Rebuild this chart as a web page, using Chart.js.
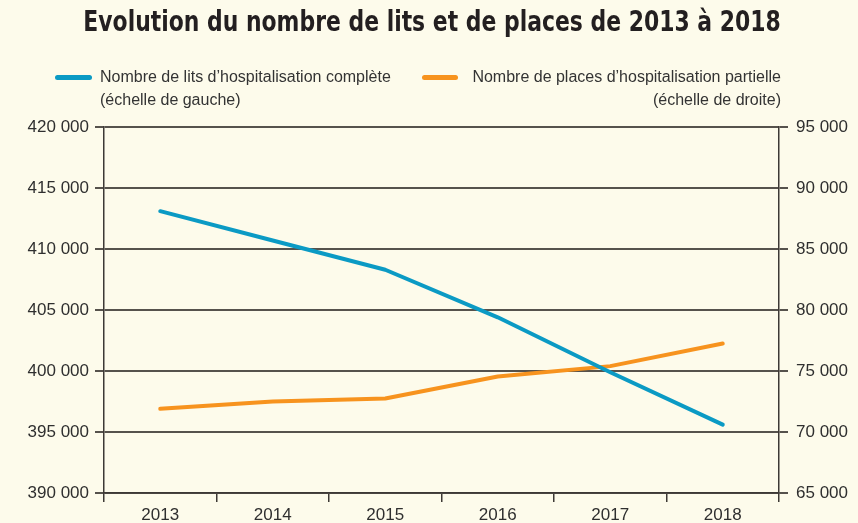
<!DOCTYPE html>
<html>
<head>
<meta charset="utf-8">
<script src="https://cdn.jsdelivr.net/npm/chart.js@4.4.1/dist/chart.umd.min.js"></script>
<style>
  html, body { margin: 0; padding: 0; background: #fdfbeb; }
  #wrap { position: relative; width: 858px; height: 523px; background: #fdfbeb; overflow: hidden; }
  #c { position: absolute; left: 0; top: 0; }
  #title { position: absolute; left: 0; width: 858px; top: 4px; text-align: center;
           font-family: 'Liberation Sans Narrow', 'DejaVu Sans Condensed', sans-serif; font-weight: bold;
           font-size: 29px; color: #231f20; white-space: nowrap;
           transform: translateX(3px) scaleX(0.84); transform-origin: 50% 50%; }
  .sw { position: absolute; height: 5px; border-radius: 3px; }
  .lg { position: absolute; font-family: 'Liberation Sans', Arial, sans-serif; font-size: 16px;
        color: #333; line-height: 23px; white-space: nowrap; }
</style>
</head>
<body>
<div id="wrap">
  <canvas id="c" width="858" height="523"></canvas>
  <div id="title"></div>
  <div id="sw0" class="sw" style="left:55px; top:75px; width:37px;"></div>
  <div id="lg0" class="lg" style="left:100px; top:65px;"></div>
  <div id="sw1" class="sw" style="left:422px; top:75px; width:36px;"></div>
  <div id="lg1" class="lg" style="right:77px; top:65px; text-align:right;"></div>
</div>
<script>
const titleText = "Evolution du nombre de lits et de places de 2013 à 2018";
const years = ['2013', '2014', '2015', '2016', '2017', '2018'];
const seriesNames = ["Nombre de lits d\u2019hospitalisation complète", "Nombre de places d\u2019hospitalisation partielle"];
const seriesNotes = ["(échelle de gauche)", "(échelle de droite)"];
const litsComplete = [413100, 410700, 408300, 404400, 399900, 395600];
const placesPartielle = [71900, 72500, 72750, 74550, 75400, 77250];
const leftRange = [390000, 420000, 5000];
const rightRange = [65000, 95000, 5000];
const colors = ['#0b9ac4', '#f7931e'];

document.getElementById('title').textContent = titleText;
document.getElementById('sw0').style.background = colors[0];
document.getElementById('sw1').style.background = colors[1];
document.getElementById('lg0').innerHTML = seriesNames[0] + '<br>' + seriesNotes[0];
document.getElementById('lg1').innerHTML = seriesNames[1] + '<br>' + seriesNotes[1];

const fmt = v => String(v).replace(/\B(?=(\d{3})+(?!\d))/g, ' ');
const tickFont = { family: "'Liberation Sans', Arial, sans-serif", size: 17 };
const gridDark = '#56524c';
const axisDark = '#3d3935';

new Chart(document.getElementById('c'), {
  type: 'line',
  data: {
    labels: years,
    datasets: [
      { label: seriesNames[0], data: litsComplete, yAxisID: 'y', borderColor: colors[0],
        backgroundColor: colors[0], borderWidth: 4, pointRadius: 0, tension: 0, borderCapStyle: 'round', borderJoinStyle: 'round' },
      { label: seriesNames[1], data: placesPartielle, yAxisID: 'y1', borderColor: colors[1],
        backgroundColor: colors[1], borderWidth: 4, pointRadius: 0, tension: 0, borderCapStyle: 'round', borderJoinStyle: 'round' }
    ]
  },
  options: {
    responsive: false,
    animation: false,
    devicePixelRatio: 1,
    layout: { padding: { top: 127, left: 0, right: 0, bottom: 0 } },
    plugins: { legend: { display: false }, title: { display: false }, tooltip: { enabled: false } },
    scales: {
      x: {
        offset: true,
        grid: { offset: true, drawOnChartArea: false, drawTicks: true, tickLength: 9, color: axisDark, lineWidth: 1.5 },
        border: { display: true, color: axisDark, width: 1.5 },
        ticks: { font: tickFont, color: '#2f2f2f', padding: 3, maxRotation: 0 },
        afterFit: s => { s.height = 30; }
      },
      y: {
        position: 'left',
        min: leftRange[0], max: leftRange[1],
        ticks: { stepSize: leftRange[2], font: tickFont, color: '#2f2f2f', padding: 6, callback: v => fmt(v) },
        grid: { color: gridDark, lineWidth: 2, tickLength: 9, drawTicks: true },
        border: { display: true, color: axisDark, width: 1.5 },
        afterFit: s => { s.width = 104; }
      },
      y1: {
        position: 'right',
        min: rightRange[0], max: rightRange[1],
        ticks: { stepSize: rightRange[2], font: tickFont, color: '#2f2f2f', padding: 8, callback: v => fmt(v) },
        grid: { drawOnChartArea: false, color: gridDark, lineWidth: 2, tickLength: 9, drawTicks: true },
        border: { display: true, color: axisDark, width: 1.5 },
        afterFit: s => { s.width = 79; }
      }
    }
  },
  plugins: [{
    id: 'bg',
    beforeDraw(chart) {
      const ctx = chart.ctx;
      ctx.save();
      ctx.fillStyle = '#fdfbeb';
      ctx.fillRect(0, 0, chart.width, chart.height);
      ctx.restore();
    }
  }]
});
</script>
</body>
</html>
